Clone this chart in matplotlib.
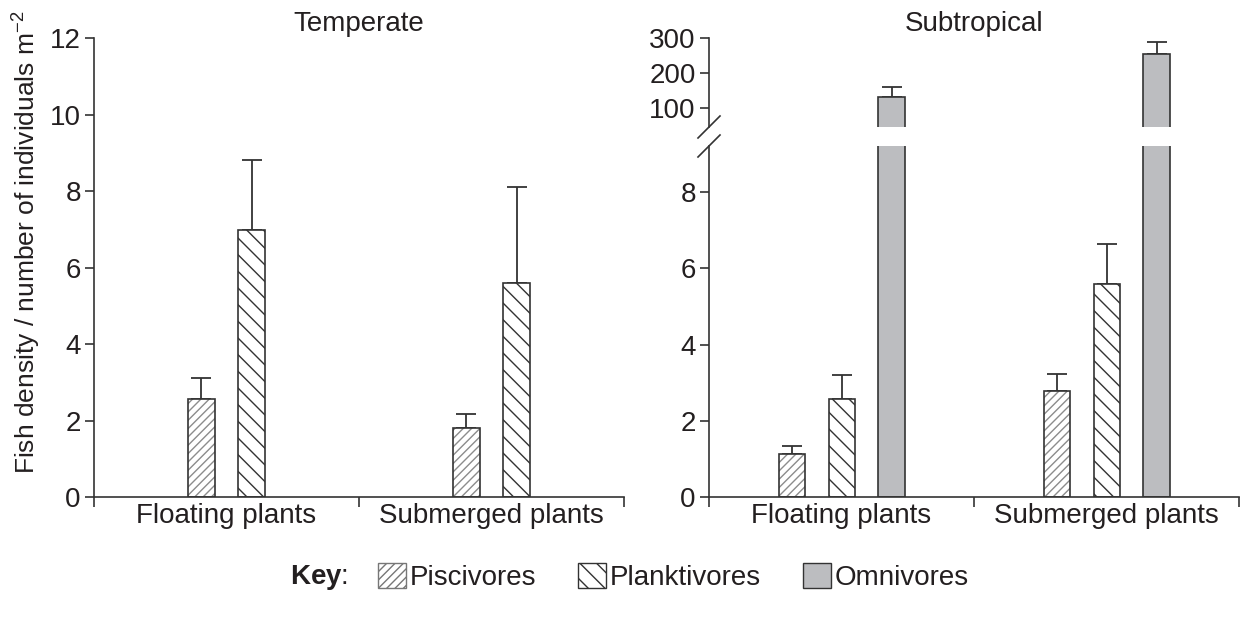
import matplotlib
matplotlib.use("Agg")
import matplotlib.pyplot as plt
import numpy as np
from matplotlib.patches import Patch
from matplotlib.lines import Line2D

plt.rcParams["font.family"] = ["Liberation Sans", "DejaVu Sans"]
plt.rcParams["mathtext.fontset"] = "custom"
plt.rcParams["mathtext.rm"] = "Liberation Sans"
plt.rcParams["mathtext.bf"] = "Liberation Sans:bold"
plt.rcParams["mathtext.default"] = "regular"
plt.rcParams["hatch.linewidth"] = 1.0

TXT = "#231f20"
EDGE = "#333333"
PISC_HATCH = "#8c8c8c"
OMNI_GRAY = "#bcbdc0"

# ---- data ----
categories = ["Floating plants", "Submerged plants"]
temperate_pisc = [2.56, 1.82]
temperate_pisc_err = [0.57, 0.35]
temperate_plank = [6.99, 5.59]
temperate_plank_err = [1.83, 2.52]

subtrop_pisc = [1.13, 2.78]
subtrop_pisc_err = [0.21, 0.45]
subtrop_plank = [2.57, 5.58]
subtrop_plank_err = [0.64, 1.05]
subtrop_omni = [132, 254]
subtrop_omni_err = [27, 36]

W, H = 1241, 618
fig = plt.figure(figsize=(W / 100, H / 100), dpi=100)


def px_box(x0, y_top, x1, y_bot):
    return [x0 / W, (H - y_bot) / H, (x1 - x0) / W, (y_bot - y_top) / H]


ax_t = fig.add_axes(px_box(94, 38.3, 624, 497.3))
ax_lo = fig.add_axes(px_box(709, 146, 1239, 497.3))
ax_hi = fig.add_axes(px_box(709, 38.3, 1239, 127))

x = np.arange(len(categories)) + 0.5
bw = 0.1
FS = 20


def draw_bar(ax, xs, vals, errs, kind):
    if kind == "pisc":
        ax.bar(xs, vals, bw, color="white", edgecolor=PISC_HATCH, hatch="////",
               linewidth=0, zorder=2)
        ax.bar(xs, vals, bw, color="none", edgecolor=EDGE, linewidth=1.2, zorder=3)
    elif kind == "plank":
        ax.bar(xs, vals, bw, color="white", edgecolor=EDGE, hatch="\\\\",
               linewidth=1.2, zorder=2)
    else:
        ax.bar(xs, vals, bw, color=OMNI_GRAY, edgecolor=EDGE, linewidth=1.2, zorder=2)
    ax.errorbar(xs, vals, yerr=[np.zeros(len(vals)), errs], fmt="none",
                ecolor=EDGE, elinewidth=1.3, capsize=7, capthick=1.3, zorder=1)


def style(ax, xaxis=True):
    for s in ("top", "right"):
        ax.spines[s].set_visible(False)
    ax.spines["left"].set_linewidth(1.2)
    ax.spines["left"].set_color(EDGE)
    ax.spines["bottom"].set_linewidth(1.2)
    ax.spines["bottom"].set_color(EDGE)
    ax.tick_params(axis="y", direction="out", length=6.5, width=1.2, color=EDGE,
                   labelsize=FS, labelcolor=TXT, pad=3)
    ax.set_xlim(0, 2)
    if xaxis:
        ax.set_xticks([0, 1, 2])
        ax.set_xticklabels([])
        ax.tick_params(axis="x", which="major", direction="out", length=7,
                       width=1.2, color=EDGE)
        ax.set_xticks(x, minor=True)
        ax.set_xticklabels(categories, minor=True)
        ax.tick_params(axis="x", which="minor", length=0, labelsize=FS,
                       labelcolor=TXT, pad=4)
    else:
        ax.spines["bottom"].set_visible(False)
        ax.set_xticks([])


# Temperate
draw_bar(ax_t, x - 0.095, temperate_pisc, temperate_pisc_err, "pisc")
draw_bar(ax_t, x + 0.095, temperate_plank, temperate_plank_err, "plank")
ax_t.set_ylim(0, 12)
ax_t.set_yticks([0, 2, 4, 6, 8, 10, 12])
style(ax_t)
ax_t.set_title("Temperate", fontsize=FS, color=TXT, pad=5)

# Subtropical (broken axis)
for ax in (ax_lo, ax_hi):
    draw_bar(ax, x - 0.187, subtrop_pisc, subtrop_pisc_err, "pisc")
    draw_bar(ax, x + 0.002, subtrop_plank, subtrop_plank_err, "plank")
    draw_bar(ax, x + 0.189, subtrop_omni, subtrop_omni_err, "omni")
ax_lo.set_ylim(0, 9.2)
ax_lo.set_yticks([0, 2, 4, 6, 8])
style(ax_lo)
ax_hi.set_ylim(44.4, 300)
ax_hi.set_yticks([100, 200, 300])
style(ax_hi, xaxis=False)
ax_hi.set_title("Subtropical", fontsize=FS, color=TXT, pad=5)

# break marks on the y axis
for yc in (127, 146):
    fig.add_artist(Line2D([(709 - 11) / W, (709 + 11) / W],
                          [(H - yc - 11) / H, (H - yc + 11) / H],
                          color=EDGE, lw=1.2, transform=fig.transFigure))

fig.text(27 / W, (H - 242) / H, "Fish density / number of individuals m$^{-2}$",
         rotation=90, ha="center", va="center", fontsize=19, color=TXT)

# key
handles = [
    Patch(facecolor="white", edgecolor="#777777", hatch="////", linewidth=1.0),
    Patch(facecolor="white", edgecolor=EDGE, hatch="\\\\", linewidth=1.0),
    Patch(facecolor=OMNI_GRAY, edgecolor=EDGE, linewidth=1.0),
]
fig.legend(handles, ["Piscivores", "Planktivores", "Omnivores"], ncol=3,
           loc="center left", bbox_to_anchor=(378 / W, (H - 577) / H),
           frameon=False, fontsize=FS, handlelength=1.0, handleheight=1.0,
           handletextpad=0.15, columnspacing=1.5, borderpad=0,
           borderaxespad=0, labelcolor=TXT)
fig.text(290 / W, (H - 577) / H, r"$\mathbf{Key}$:", ha="left", va="center",
         fontsize=FS, color=TXT)

fig.savefig("out.png", dpi=100)
